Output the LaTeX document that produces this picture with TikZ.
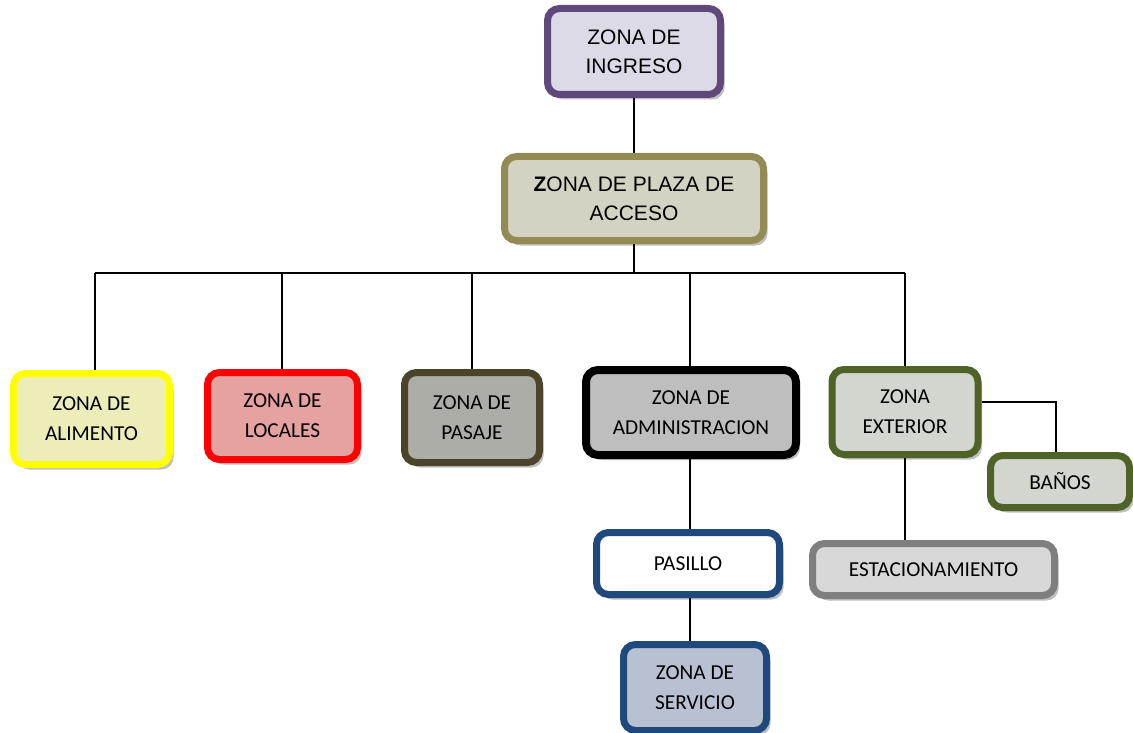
\documentclass[tikz,border=0pt]{standalone}
\usepackage{fontspec}
\setmainfont{Carlito}
\newfontfamily\arialf{Liberation Sans}
\usetikzlibrary{shadows}
\definecolor{purB}{HTML}{5F497A}\definecolor{purF}{HTML}{DDDAE8}
\definecolor{tanB}{HTML}{948A54}\definecolor{tanF}{HTML}{D4D2C2}
\definecolor{yelB}{HTML}{FFFF00}\definecolor{yelF}{HTML}{EDEDB9}
\definecolor{redB}{HTML}{FF0000}\definecolor{redF}{HTML}{E6A1A1}
\definecolor{pasB}{HTML}{4A452A}\definecolor{pasF}{HTML}{ADADA8}
\definecolor{admF}{HTML}{BEBEBE}
\definecolor{grnB}{HTML}{4F6228}\definecolor{grnF}{HTML}{D2D6CE}
\definecolor{bluB}{HTML}{1F497D}\definecolor{bluF}{HTML}{B8C1D2}
\definecolor{gryB}{HTML}{7F7F7F}\definecolor{gryF}{HTML}{D8D8D8}
\begin{document}
\begin{tikzpicture}[x=1pt,y=-1pt,
  zbox/.style={draw, rounded corners=12pt, line width=7pt, inner sep=0pt,
    align=center, font=\fontsize{21.3}{30}\selectfont,
    drop shadow={shadow xshift=4pt, shadow yshift=-5pt, opacity=0.25, fill=black}},
  abox/.style={zbox, font=\arialf\fontsize{21}{29}\selectfont},
  conn/.style={line width=1.5pt, black}]
\useasboundingbox (0,0) rectangle (1133,733);
\fill[white] (0,0) rectangle (1133,733);

\node[abox, draw=purB, fill=purF, minimum width=173pt, minimum height=86pt] (ing) at (634,51.5) {ZONA DE\\INGRESO};
\node[abox, draw=tanB, fill=tanF, minimum width=259pt, minimum height=84pt] (pla) at (634,198.5) {\textbf{Z}ONA DE PLAZA DE\\ACCESO};

\node[zbox, draw=yelB, fill=yelF, minimum width=156pt, minimum height=91pt] (ali) at (91.5,419) {ZONA DE\\ALIMENTO};
\node[zbox, draw=redB, fill=redF, minimum width=150pt, minimum height=87pt] (loc) at (282.5,416) {ZONA DE\\LOCALES};
\node[zbox, draw=pasB, fill=pasF, minimum width=135pt, minimum height=90pt] (pas) at (472,417.5) {ZONA DE\\PASAJE};
\node[zbox, draw=black, line width=8pt, fill=admF, minimum width=210pt, minimum height=85pt] (adm) at (691,412.5) {ZONA DE\\ADMINISTRACION};
\node[zbox, draw=grnB, fill=grnF, minimum width=146pt, minimum height=85pt] (ext) at (905,412) {ZONA\\EXTERIOR};
\node[zbox, draw=grnB, fill=grnF, minimum width=139pt, minimum height=52pt] (ban) at (1060,481.5) {BAÑOS};
\node[zbox, draw=bluB, fill=white, minimum width=183pt, minimum height=62pt] (psl) at (688,563.5) {PASILLO};
\node[zbox, draw=gryB, fill=gryF, minimum width=242pt, minimum height=52pt] (est) at (933.5,569.5) {ESTACIONAMIENTO};
\node[zbox, draw=bluB, fill=bluF, minimum width=143pt, minimum height=86pt] (ser) at (695,687.5) {ZONA DE\\SERVICIO};

\coordinate (bus) at (634,273);
\coordinate (busL) at (95,273);
\coordinate (busR) at (905,273);
\coordinate (bend) at (1056,402);

\draw[conn] (ing) -- (pla);
\draw[conn] (pla.south) -- (bus);
\draw[conn] (busL) -- (busR);
\draw[conn] (busL) -- (busL |- ali.north);
\draw[conn] (282,273) -- (282,369);
\draw[conn] (pas.north |- bus) -- (pas.north);
\draw[conn] (690,273) -- (690,366);
\draw[conn] (busR) -- (ext.north);
\draw[conn] (690,459) -- (690,529);
\draw[conn] (690,598) -- (690,641);
\draw[conn] (ext.east |- bend) -- (bend) -- (bend |- ban.north);
\draw[conn] (ext.south) -- (ext.south |- est.north);
\end{tikzpicture}
\end{document}
